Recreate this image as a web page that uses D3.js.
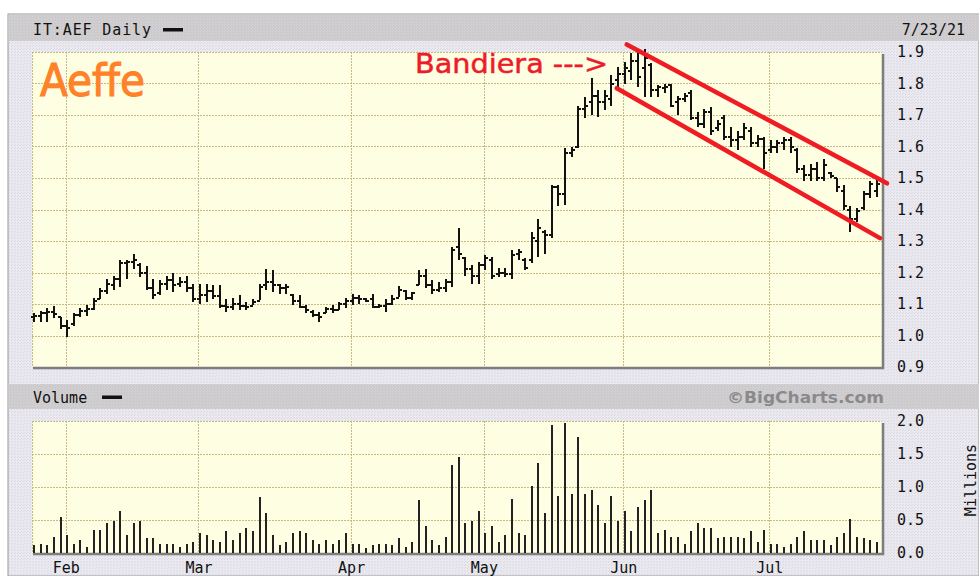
<!DOCTYPE html>
<html>
<head>
<meta charset="utf-8">
<script src="https://cdn.jsdelivr.net/npm/d3@7/dist/d3.min.js"></script>
<style>
  body { margin: 0; background: #fff; }
  svg { display: block; }
  text.mono, .tick text { font-family: "DejaVu Sans Mono", monospace; fill: #111; }
</style>
</head>
<body>
<svg id="chart" width="979" height="576"></svg>
<script>
// ---------------------------------------------------------------------------
// Data: IT:AEF daily bars, 25 Jan .. 23 Jul 2021
const ticker = 'IT:AEF Daily';
const asOf = '7/23/21';
const title = 'Aeffe';
const flagNote = 'Bandiera --->';

// Borsa Italiana closed on Good Friday / Easter Monday
const holidays = ['2021-04-02', '2021-04-05'];

const priceTicks = [0.9, 1.0, 1.1, 1.2, 1.3, 1.4, 1.5, 1.6, 1.7, 1.8, 1.9];
const volumeTicks = [0, 0.5, 1.0, 1.5, 2.0];

const opens = [
  1.060, 1.062, 1.070, 1.075, 1.058, 1.030, 1.035, 1.065, 1.078, 1.085,
  1.115, 1.140, 1.160, 1.180, 1.230, 1.232, 1.225, 1.200, 1.150, 1.135,
  1.165, 1.175, 1.165, 1.170, 1.150, 1.115, 1.130, 1.140, 1.125, 1.095,
  1.090, 1.100, 1.095, 1.095, 1.110, 1.160, 1.170, 1.160, 1.150, 1.130,
  1.110, 1.090, 1.075, 1.065, 1.070, 1.085, 1.080, 1.100, 1.110, 1.120,
  1.115, 1.115, 1.090, 1.095, 1.100, 1.120, 1.140, 1.120, 1.160, 1.190,
  1.160, 1.145, 1.150, 1.170, 1.280, 1.245, 1.210, 1.190, 1.225, 1.240,
  1.195, 1.200, 1.195, 1.260, 1.240, 1.240, 1.300, 1.330, 1.320, 1.470,
  1.450, 1.580, 1.600, 1.720, 1.740, 1.760, 1.740, 1.750, 1.810, 1.830,
  1.840, 1.870, 1.850, 1.860, 1.780, 1.785, 1.795, 1.740, 1.750, 1.770,
  1.690, 1.670, 1.710, 1.660, 1.690, 1.630, 1.620, 1.630, 1.650, 1.610,
  1.625, 1.590, 1.600, 1.610, 1.620, 1.590, 1.530, 1.510, 1.530, 1.500,
  1.515, 1.500, 1.460, 1.400, 1.370, 1.405, 1.450, 1.460
];
const highs = [
  1.072, 1.078, 1.086, 1.093, 1.060, 1.050, 1.070, 1.086, 1.096, 1.120,
  1.150, 1.178, 1.190, 1.240, 1.240, 1.260, 1.230, 1.220, 1.180, 1.176,
  1.190, 1.200, 1.186, 1.190, 1.165, 1.165, 1.165, 1.160, 1.160, 1.117,
  1.120, 1.128, 1.107, 1.117, 1.165, 1.210, 1.207, 1.165, 1.165, 1.133,
  1.128, 1.096, 1.080, 1.075, 1.090, 1.096, 1.107, 1.120, 1.133, 1.128,
  1.120, 1.133, 1.100, 1.117, 1.128, 1.157, 1.144, 1.139, 1.207, 1.210,
  1.176, 1.170, 1.180, 1.280, 1.340, 1.250, 1.223, 1.234, 1.255, 1.250,
  1.213, 1.213, 1.270, 1.276, 1.245, 1.330, 1.370, 1.334, 1.478, 1.478,
  1.595, 1.600, 1.730, 1.757, 1.817, 1.780, 1.780, 1.827, 1.852, 1.868,
  1.897, 1.900, 1.910, 1.865, 1.795, 1.800, 1.800, 1.760, 1.770, 1.780,
  1.710, 1.720, 1.725, 1.684, 1.700, 1.662, 1.650, 1.675, 1.662, 1.636,
  1.630, 1.620, 1.620, 1.630, 1.630, 1.595, 1.540, 1.545, 1.550, 1.560,
  1.520, 1.500, 1.478, 1.410, 1.405, 1.460, 1.490, 1.500
];
const lows = [
  1.043, 1.043, 1.043, 1.054, 1.020, 0.996, 1.030, 1.060, 1.061, 1.080,
  1.117, 1.133, 1.144, 1.155, 1.180, 1.210, 1.186, 1.144, 1.117, 1.128,
  1.144, 1.139, 1.155, 1.139, 1.107, 1.100, 1.107, 1.117, 1.086, 1.075,
  1.080, 1.080, 1.080, 1.096, 1.112, 1.144, 1.139, 1.133, 1.133, 1.096,
  1.086, 1.070, 1.060, 1.043, 1.070, 1.070, 1.080, 1.086, 1.096, 1.100,
  1.107, 1.086, 1.086, 1.075, 1.096, 1.123, 1.112, 1.112, 1.160, 1.150,
  1.133, 1.139, 1.139, 1.155, 1.240, 1.190, 1.165, 1.165, 1.207, 1.180,
  1.186, 1.186, 1.180, 1.240, 1.207, 1.230, 1.250, 1.260, 1.310, 1.410,
  1.414, 1.567, 1.595, 1.690, 1.700, 1.694, 1.716, 1.730, 1.790, 1.800,
  1.810, 1.790, 1.757, 1.757, 1.757, 1.770, 1.725, 1.700, 1.740, 1.684,
  1.662, 1.660, 1.636, 1.650, 1.620, 1.600, 1.590, 1.620, 1.600, 1.600,
  1.530, 1.580, 1.580, 1.590, 1.580, 1.515, 1.490, 1.490, 1.490, 1.490,
  1.500, 1.455, 1.400, 1.330, 1.360, 1.400, 1.436, 1.440
];
const closes = [
  1.062, 1.070, 1.075, 1.068, 1.030, 1.025, 1.065, 1.078, 1.085, 1.110,
  1.140, 1.165, 1.180, 1.230, 1.232, 1.240, 1.200, 1.150, 1.130, 1.165,
  1.175, 1.160, 1.170, 1.150, 1.115, 1.130, 1.140, 1.125, 1.095, 1.090,
  1.100, 1.095, 1.090, 1.105, 1.155, 1.170, 1.160, 1.150, 1.155, 1.110,
  1.090, 1.080, 1.065, 1.060, 1.085, 1.080, 1.100, 1.110, 1.120, 1.115,
  1.110, 1.090, 1.095, 1.100, 1.115, 1.145, 1.120, 1.135, 1.190, 1.160,
  1.145, 1.150, 1.170, 1.270, 1.260, 1.210, 1.190, 1.225, 1.245, 1.190,
  1.200, 1.195, 1.255, 1.265, 1.215, 1.310, 1.340, 1.320, 1.470, 1.450,
  1.580, 1.590, 1.720, 1.730, 1.760, 1.740, 1.760, 1.800, 1.830, 1.850,
  1.870, 1.820, 1.880, 1.780, 1.790, 1.790, 1.730, 1.750, 1.760, 1.690,
  1.670, 1.710, 1.650, 1.670, 1.630, 1.620, 1.630, 1.660, 1.610, 1.625,
  1.580, 1.600, 1.610, 1.620, 1.600, 1.530, 1.510, 1.530, 1.500, 1.540,
  1.505, 1.470, 1.410, 1.370, 1.395, 1.450, 1.480, 1.480
];
// millions of shares
const volumes = [
  0.12, 0.14, 0.12, 0.25, 0.54, 0.28, 0.14, 0.19, 0.09, 0.35,
  0.35, 0.46, 0.49, 0.64, 0.28, 0.46, 0.49, 0.22, 0.22, 0.14,
  0.14, 0.14, 0.09, 0.14, 0.17, 0.30, 0.28, 0.19, 0.17, 0.33,
  0.19, 0.30, 0.38, 0.33, 0.85, 0.61, 0.28, 0.12, 0.17, 0.30,
  0.33, 0.30, 0.19, 0.14, 0.19, 0.14, 0.19, 0.30, 0.14, 0.14,
  0.07, 0.12, 0.14, 0.14, 0.12, 0.22, 0.09, 0.17, 0.80, 0.41,
  0.19, 0.12, 0.25, 1.34, 1.45, 0.46, 0.49, 0.64, 0.30, 0.41,
  0.17, 0.28, 0.82, 0.30, 0.28, 1.01, 1.37, 0.61, 1.94, 0.87,
  1.97, 0.90, 1.76, 0.90, 0.96, 0.72, 0.46, 0.87, 0.49, 0.64,
  0.33, 0.70, 0.80, 0.96, 0.30, 0.35, 0.25, 0.25, 0.14, 0.33,
  0.46, 0.38, 0.38, 0.22, 0.25, 0.25, 0.25, 0.22, 0.33, 0.17,
  0.35, 0.14, 0.14, 0.09, 0.14, 0.25, 0.33, 0.19, 0.19, 0.19,
  0.12, 0.25, 0.30, 0.51, 0.25, 0.22, 0.19, 0.17
];

// hand-drawn flag channel: [bar index, price]
const channelUpper = [[89.3, 1.924], [128.5, 1.483]];
const channelLower = [[87.8, 1.785], [127.45, 1.309]];

// ---------------------------------------------------------------------------
const fmtDay = d3.utcFormat('%Y-%m-%d');
const days = d3.utcDays(new Date(Date.UTC(2021, 0, 25)), new Date(Date.UTC(2021, 6, 24)))
  .filter((d) => d.getUTCDay() % 6 !== 0 && !holidays.includes(fmtDay(d)));

const bars = days.map((d, i) => ({
  i, date: d, o: opens[i], h: highs[i], l: lows[i], c: closes[i], v: volumes[i],
}));

// month starts (first trading day of each new month)
const monthStarts = bars.filter((b, i) => i > 0 && b.date.getUTCMonth() !== days[i - 1].getUTCMonth());

const W = 979, H = 576;
const plot = { left: 32, right: 882 };
const pricePanel = { top: 52, bottom: 367 };
const volPanel = { top: 421, bottom: 553 };

const svg = d3.select('#chart');
const defs = svg.append('defs');

// dotted textures like the old GIF
const pat = (id, base, dot) => {
  const p = defs.append('pattern').attr('id', id)
    .attr('width', 3).attr('height', 3).attr('patternUnits', 'userSpaceOnUse');
  p.append('rect').attr('width', 3).attr('height', 3).attr('fill', base);
  p.append('rect').attr('x', 0).attr('y', 0).attr('width', 1).attr('height', 1).attr('fill', dot);
  p.append('rect').attr('x', 2).attr('y', 1).attr('width', 1).attr('height', 1).attr('fill', dot);
};
pat('panelTex', '#e9e9ef', '#d9d9e3');
pat('headTex', '#cbcbcb', '#d9d0d9');

const x = d3.scaleLinear().domain([0, bars.length - 1]).range([34, 877]);
const gridX = (i) => x(i) - 1.5;
const y = d3.scaleLinear().domain([0.9, 1.9]).range([pricePanel.bottom, pricePanel.top]);
const yv = d3.scaleLinear().domain([0, 2.0]).range([volPanel.bottom, volPanel.top]);

// frame
svg.append('rect').attr('x', 8).attr('y', 14).attr('width', W - 8).attr('height', H - 14)
  .attr('fill', 'url(#panelTex)').attr('stroke', '#9a9a9a');
svg.append('rect').attr('x', 8.5).attr('y', 14.5).attr('width', W - 8).attr('height', 26.5)
  .attr('fill', 'url(#headTex)');
svg.append('rect').attr('x', 8.5).attr('y', 384).attr('width', W - 8).attr('height', 25)
  .attr('fill', 'url(#headTex)');

// header texts
svg.append('text').attr('class', 'mono').attr('x', 33).attr('y', 35).attr('font-size', 15)
  .attr('textLength', 118).text(ticker);
svg.append('rect').attr('x', 163).attr('y', 28).attr('width', 20).attr('height', 3.5).attr('fill', '#111');
svg.append('text').attr('class', 'mono').attr('x', 965).attr('y', 35).attr('font-size', 15)
  .attr('text-anchor', 'end').text(asOf);
svg.append('text').attr('class', 'mono').attr('x', 33).attr('y', 402.5).attr('font-size', 15).text('Volume');
svg.append('rect').attr('x', 102).attr('y', 395.5).attr('width', 20).attr('height', 3.5).attr('fill', '#111');
svg.append('text').attr('x', 884).attr('y', 403).attr('text-anchor', 'end')
  .style('font-family', '"DejaVu Sans", sans-serif').attr('font-weight', 'bold').attr('font-size', 16)
  .attr('textLength', 157).attr('lengthAdjust', 'spacingAndGlyphs')
  .style('fill', '#8a8a8a').text('\u00a9BigCharts.com');

// ---------------------------------------------------------------------------
// panels
const drawPanel = (top, bottom, ticks, yScale) => {
  const g = svg.append('g');
  g.append('rect').attr('x', plot.left).attr('y', top)
    .attr('width', plot.right - plot.left).attr('height', bottom - top).attr('fill', '#fefee2');
  g.selectAll('line.h').data(ticks.filter((t) => yScale(t) < bottom - 1)).enter()
    .append('line').attr('class', 'h')
    .attr('x1', plot.left).attr('x2', plot.right)
    .attr('y1', (d) => Math.round(yScale(d)) + 0.5).attr('y2', (d) => Math.round(yScale(d)) + 0.5)
    .attr('stroke', '#c8b986').attr('stroke-dasharray', '2,1');
  g.append('line').attr('x1', plot.left + 0.5).attr('x2', plot.left + 0.5).attr('y1', top).attr('y2', bottom)
    .attr('stroke', '#c8b986').attr('stroke-dasharray', '2,1');
  g.selectAll('line.v').data(monthStarts).enter()
    .append('line').attr('class', 'v')
    .attr('x1', (d) => Math.round(gridX(d.i)) + 0.5).attr('x2', (d) => Math.round(gridX(d.i)) + 0.5)
    .attr('y1', top).attr('y2', bottom)
    .attr('stroke', '#c8b986').attr('stroke-dasharray', '2,1');
  // shadow border right / bottom
  g.append('path')
    .attr('d', `M${plot.right + 1},${top + 2}V${bottom + 1}H${plot.left + 1}`)
    .attr('fill', 'none').attr('stroke', '#7d7d7d').attr('stroke-width', 2.5);
  return g;
};

const priceG = drawPanel(pricePanel.top, pricePanel.bottom, priceTicks, y);
const volG = drawPanel(volPanel.top, volPanel.bottom, volumeTicks, yv);

const styleTicks = (g) => g.selectAll('text').attr('font-size', 15);

// price axis
svg.append('g').attr('transform', `translate(${plot.right},0)`)
  .call(d3.axisRight(y).tickValues(priceTicks).tickFormat(d3.format('.1f')).tickSize(0).tickPadding(15))
  .call((g) => g.select('.domain').remove())
  .call(styleTicks);

// volume axis
svg.append('g').attr('transform', `translate(${plot.right},0)`)
  .call(d3.axisRight(yv).tickValues(volumeTicks).tickFormat(d3.format('.1f')).tickSize(0).tickPadding(15))
  .call((g) => g.select('.domain').remove())
  .call(styleTicks);

svg.append('text').attr('class', 'mono').attr('transform', 'translate(976,480) rotate(-90)')
  .attr('text-anchor', 'middle').attr('font-size', 15).text('Millions');

// month axis
const monthScale = d3.scaleLinear().domain(x.domain()).range(x.range().map((r) => r - 1.5));
svg.append('g').attr('transform', `translate(0,${volPanel.bottom})`)
  .call(d3.axisBottom(monthScale).tickValues(monthStarts.map((d) => d.i))
    .tickFormat((i) => d3.utcFormat('%b')(days[i])).tickSize(0).tickPadding(9))
  .call((g) => g.select('.domain').remove())
  .call(styleTicks);

// ---------------------------------------------------------------------------
// OHLC bars
const ohlc = priceG.append('g').attr('stroke', '#111').attr('shape-rendering', 'crispEdges');
ohlc.selectAll('line.hl').data(bars).enter().append('line').attr('class', 'hl')
  .attr('x1', (d) => x(d.i)).attr('x2', (d) => x(d.i))
  .attr('y1', (d) => y(d.h)).attr('y2', (d) => y(d.l)).attr('stroke-width', 2);
ohlc.selectAll('line.o').data(bars).enter().append('line').attr('class', 'o')
  .attr('x1', (d) => x(d.i) - 3).attr('x2', (d) => x(d.i))
  .attr('y1', (d) => y(d.o)).attr('y2', (d) => y(d.o)).attr('stroke-width', 2);
ohlc.selectAll('line.c').data(bars).enter().append('line').attr('class', 'c')
  .attr('x1', (d) => x(d.i)).attr('x2', (d) => x(d.i) + 3)
  .attr('y1', (d) => y(d.c)).attr('y2', (d) => y(d.c)).attr('stroke-width', 2);

// volume bars
volG.append('g').selectAll('line').data(bars).enter().append('line')
  .attr('x1', (d) => x(d.i)).attr('x2', (d) => x(d.i))
  .attr('y1', yv(0)).attr('y2', (d) => yv(d.v))
  .attr('stroke', '#222').attr('stroke-width', 2).attr('shape-rendering', 'crispEdges');

// ---------------------------------------------------------------------------
// annotations
const chan = d3.line().x((d) => x(d[0])).y((d) => y(d[1]));
[channelUpper, channelLower].forEach((pts) => {
  svg.append('path').attr('d', chan(pts))
    .attr('stroke', '#f01c24').attr('stroke-width', 4.5).attr('stroke-linecap', 'round').attr('fill', 'none');
});

// slightly heavier than regular weight, like the painted label
svg.append('text').attr('x', 40).attr('y', 96).style('font-family', '"DejaVu Sans", sans-serif')
  .attr('font-size', 45).attr('textLength', 105).attr('lengthAdjust', 'spacingAndGlyphs')
  .style('fill', '#ff8128').style('stroke', '#ff8128').style('stroke-width', 1.1).text(title);

svg.append('text').attr('x', 415).attr('y', 73).style('font-family', '"DejaVu Sans", sans-serif')
  .attr('font-size', 27).attr('textLength', 193).attr('lengthAdjust', 'spacingAndGlyphs')
  .style('fill', '#ee1c2a').style('stroke', '#ee1c2a').style('stroke-width', 0.5).text(flagNote);
</script>
</body>
</html>
